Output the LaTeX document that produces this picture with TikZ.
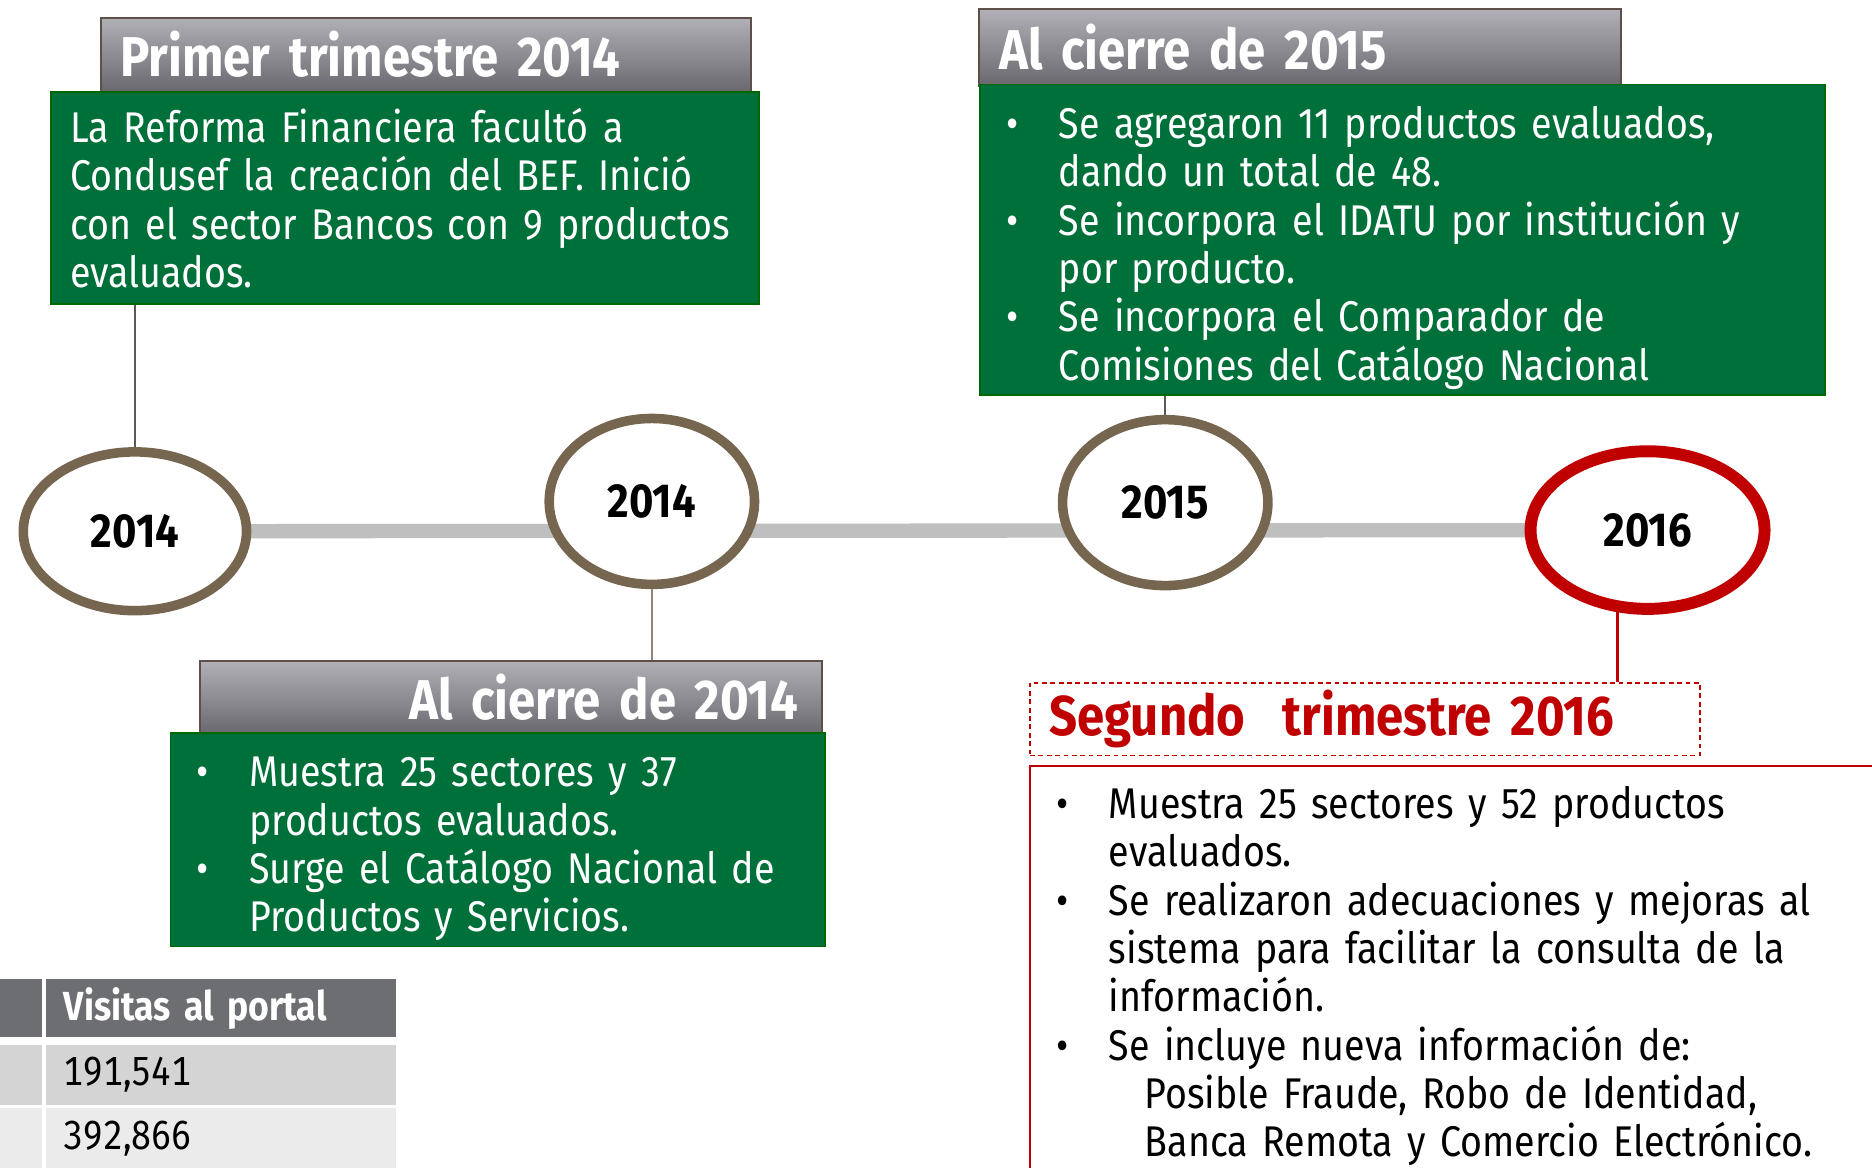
\documentclass[tikz,border=0pt]{standalone}
\usepackage{fontspec}
\setmainfont{Fira Sans}[FakeStretch=0.875]
\usetikzlibrary{shapes.geometric, positioning, backgrounds}

\definecolor{verde}{RGB}{0,112,58}
\definecolor{cafe}{RGB}{118,101,79}
\definecolor{rojo}{RGB}{192,0,0}
\definecolor{barra}{RGB}{191,191,191}
\definecolor{grisclaro}{RGB}{176,176,182}
\definecolor{grisoscuro}{RGB}{104,104,110}
\definecolor{hdrline}{RGB}{92,80,72}
\definecolor{tabgris}{RGB}{109,110,114}
\definecolor{fila1}{RGB}{212,212,212}
\definecolor{fila2}{RGB}{235,235,235}

\tikzstyle{year} = [ellipse, draw=cafe, line width=4pt, fill=white, inner sep=0pt, font=\bfseries\fontsize{20}{24}\selectfont]
\tikzstyle{yearred} = [year, draw=rojo, line width=5pt]
\tikzstyle{hdr} = [rectangle, draw=hdrline, line width=0.8pt, top color=grisclaro, bottom color=grisoscuro, text=white, inner xsep=8pt, inner ysep=0pt, align=left, font=\bfseries\fontsize{23.5}{27}\selectfont]
\tikzstyle{gbox} = [rectangle, draw=green!40!black, line width=0.8pt, fill=verde, text=white, inner xsep=8pt, inner ysep=0pt, align=left, font=\fontsize{18}{20.25}\selectfont]
\tikzstyle{redbox} = [rectangle, draw=rojo, line width=0.8pt, inner xsep=8pt, inner ysep=0pt, align=left]
\tikzstyle{cell} = [rectangle, inner xsep=7.5pt, inner ysep=0pt, align=left, font=\fontsize{17}{20}\selectfont\addfontfeatures{Numbers=Monospaced}]
\tikzstyle{bar} = [line width=6pt, draw=barra, line cap=round]
\tikzstyle{link} = [draw=gray!70!black, line width=0.75pt]

\newcommand{\bul}{\par\noindent\hangindent=22pt\hangafter=1\makebox[22pt][l]{\textbullet}}

\begin{document}
\begin{tikzpicture}[x=0.5pt, y=-0.5pt]
\useasboundingbox (0,0) rectangle (1568,978);
\clip (0,0) rectangle (1568,978);

% circulos de la linea de tiempo
\node (c1) [year, minimum width=93.5pt, minimum height=66.5pt] at (113,445) {2014};
\node (c2) [year, minimum width=86pt, minimum height=69.5pt] at (546,420) {2014};
\node (c3) [year, minimum width=86pt, minimum height=69.5pt] at (976,421) {2015};
\node (c4) [yearred, minimum width=98pt, minimum height=66pt] at (1380,444) {2016};

% primer trimestre 2014
\node (h1) [hdr, anchor=north west, text width=256pt, minimum height=31pt] at (84,14) {Primer trimestre 2014};
\node (g1) [gbox, anchor=north west, text width=280.5pt, minimum height=89pt] at (42,76)
  {La Reforma Financiera facultó a\\Condusef la creación del BEF. Inició\\con el sector Bancos con 9 productos\\evaluados.};

% al cierre de 2014
\node (h2) [hdr, anchor=north west, align=right, inner xsep=10pt, text width=240.5pt, minimum height=30.5pt] at (167,553) {Al cierre de 2014};
\node (g2) [gbox, anchor=north west, inner xsep=11pt, text width=252pt, minimum height=89.5pt] at (142,613)
  {\bul Muestra 25 sectores y 37\newline productos evaluados.
   \bul Surge el Catálogo Nacional de\newline Productos y Servicios.\par};

% al cierre de 2015
\node (h3) [hdr, anchor=north west, inner xsep=8.5pt, text width=252pt, minimum height=32pt] at (819,7) {Al cierre de 2015};
\node (g3) [gbox, anchor=north west, inner xsep=11pt, text width=332pt, minimum height=130pt] at (820,70)
  {\bul Se agregaron 11 productos evaluados,\newline dando un total de 48.
   \bul Se incorpora el IDATU por institución y\newline por producto.
   \bul Se incorpora el Comparador de\newline Comisiones del Catálogo Nacional\par};

% segundo trimestre 2016
\node (s1) [redbox, dash pattern=on 2pt off 1.5pt, anchor=north west, text width=264.5pt, minimum height=30.5pt, text=rojo, font=\bfseries\fontsize{23.5}{27}\selectfont] at (862,571) {Segundo\ \ trimestre 2016};
\node (r1) [redbox, anchor=north west, inner xsep=11pt, text width=337pt, minimum height=169pt, font=\fontsize{18}{20.25}\selectfont] at (862,641)
  {\bul Muestra 25 sectores y 52 productos\newline evaluados.
   \bul Se realizaron adecuaciones y mejoras al\newline sistema para facilitar la consulta de la\newline información.
   \bul Se incluye nueva información de:\newline\hspace*{15pt}Posible Fraude, Robo de Identidad,\newline\hspace*{15pt}Banca Remota y Comercio Electrónico.\par};

% tabla de visitas
\node (t0) [cell, fill=tabgris, anchor=north west, minimum width=17.5pt, minimum height=24pt] at (0,820) {};
\node (th) [cell, fill=tabgris, anchor=north west, text width=131.5pt, minimum height=24pt, text=white, font=\bfseries\fontsize{17}{20}\selectfont] at (38,820) {Visitas al portal};
\node (a1) [cell, fill=fila1, anchor=north west, minimum width=17.5pt, minimum height=25pt] at (0,875) {};
\node (b1) [cell, fill=fila1, anchor=north west, text width=131.5pt, minimum height=25pt] at (38,875) {191,541};
\node (a2) [cell, fill=fila2, anchor=north west, minimum width=17.5pt, minimum height=25pt] at (0,928) {};
\node (b2) [cell, fill=fila2, anchor=north west, text width=131.5pt, minimum height=25pt] at (38,928) {392,866};

% conectores
\begin{scope}[on background layer]
\draw [bar] (c1) -- (c4);
\end{scope}
\draw [link] (c1) -- (c1 |- g1.south);
\draw [link, draw=cafe!80] (c2) -- (c2 |- h2.north);
\draw [link] (c3) -- (c3 |- g3.south);
\draw [link, draw=rojo, line width=1pt] (c4.250) -- (c4.250 |- s1.north);
\end{tikzpicture}
\end{document}
